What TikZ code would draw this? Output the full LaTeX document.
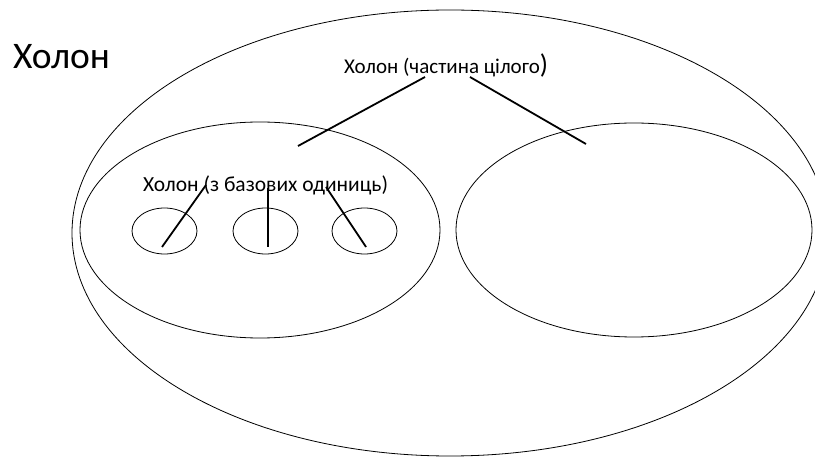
\documentclass[tikz,border=0pt]{standalone}
\usepackage{fontspec}
\setmainfont{Carlito}
\usetikzlibrary{shapes.geometric}
\begin{document}
\begin{tikzpicture}[x=1pt,y=-1pt,
  ell/.style={draw, ellipse, line width=0.8pt, inner sep=0pt},
  link/.style={draw, line width=1.8pt},
  lab/.style={inner sep=0pt, anchor=base west}]
\clip (0,0) rectangle (815,457);
\fill[white] (0,0) rectangle (815,457);
% ellipses
\node[ell, minimum width=756pt, minimum height=446pt] (outer) at (450,233) {};
\node[ell, minimum width=360pt, minimum height=216pt] (left) at (260,230) {};
\node[ell, minimum width=356pt, minimum height=214pt] (right) at (634,230) {};
\node[ell, minimum width=65pt, minimum height=46pt] (s1) at (164.5,231) {};
\node[ell, minimum width=65pt, minimum height=46pt] (s2) at (265.5,231) {};
\node[ell, minimum width=65pt, minimum height=46pt] (s3) at (364.5,231) {};
% labels
\node[lab, font=\fontsize{37.5}{40}\selectfont] (title) at (13,69) {Холон};
\node[lab, font=\fontsize{21}{24}\selectfont] (top) at (344,74) {Холон (частина цілого\fontsize{27}{30}\selectfont)};
\node[lab, font=\fontsize{21.5}{24}\selectfont] (base) at (143,192) {Холон (з базових одиниць)};
% connector ends
\coordinate (a1) at (298,146); \coordinate (a2) at (425,77);
\coordinate (b1) at (470,77);  \coordinate (b2) at (586,144);
\coordinate (c1) at (162,247); \coordinate (c2) at (206,185);
\coordinate (d1) at (268,247); \coordinate (d2) at (268,188);
\coordinate (e1) at (366,247); \coordinate (e2) at (326,187);
\draw[link] (a1) -- (a2);
\draw[link] (b1) -- (b2);
\draw[link] (c1) -- (c2);
\draw[link] (d1) -- (d2);
\draw[link] (e1) -- (e2);
\end{tikzpicture}
\end{document}
